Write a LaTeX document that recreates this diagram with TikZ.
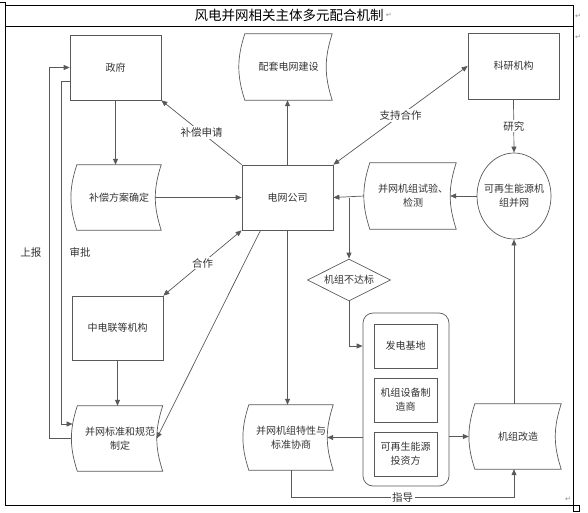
\documentclass[tikz,border=0pt]{standalone}
\usepackage{fontspec}
\setmainfont{Noto Sans CJK SC}
\newfontfamily\symfont{DejaVu Sans}
\usetikzlibrary{arrows.meta,shapes.geometric,calc,positioning}
\definecolor{linegray}{gray}{0.35}
\definecolor{textgray}{gray}{0.2}
\tikzset{
  boxtext/.style={font=\fontsize{10}{14}\selectfont, text=textgray, align=center, inner sep=0pt},
  rectbox/.style={boxtext, draw=linegray, line width=0.7pt},
  wavybox/.style={boxtext},
  shapeline/.style={draw=linegray, line width=0.7pt},
  arrow/.style={draw=linegray, line width=0.7pt, -{Triangle[length=6pt,width=5pt]}},
  twoway/.style={arrow, {Triangle[length=6pt,width=5pt]}-{Triangle[length=6pt,width=5pt]}},
  edgelabel/.style={font=\fontsize{10.5}{13}\selectfont, text=textgray, fill=white, inner sep=1.5pt},
  pilcrow/.style={font=\symfont\fontsize{7}{8}\selectfont, text=black!45, inner sep=0pt}
}
\begin{document}
\begin{tikzpicture}[x=1pt,y=-1pt]
\useasboundingbox (0,0) rectangle (588,513);
\draw[line width=0.8pt] (5,5) rectangle (573,505);
\draw[line width=0.8pt] (5,26) -- (573,26);
\draw[line width=0.6pt] (0,2) -- (5,2) -- (5,5);
\draw[line width=0.6pt] (573,505) rectangle (579,511);
\node[font=\fontsize{13.5}{16}\selectfont, inner sep=0pt] (title) at (289,15.5) {风电并网相关主体多元配合机制};
\node[pilcrow, right=2pt of title] (mark0) {↵};
\node[pilcrow] (mark1) at (578,16) {↵};
\node[pilcrow] (mark2) at (578,37) {↵};
\node[pilcrow] (mark3) at (568,499) {↵};

\node[rectbox, minimum width=91pt, minimum height=65pt] (gov) at (115.5,67.5) {政府};
\node[wavybox, minimum width=87pt, minimum height=66pt] (gridbuild) at (288.5,67) {配套电网建设};
\node[rectbox, minimum width=91pt, minimum height=66pt] (research) at (513.5,66) {科研机构};
\node[wavybox, minimum width=84pt, minimum height=65pt] (compensate) at (119,197.5) {补偿方案确定};
\node[rectbox, minimum width=91pt, minimum height=65pt] (gridco) at (287.5,197.5) {电网公司};
\node[wavybox, minimum width=86pt, minimum height=66pt] (test) at (413,196) {并网机组试验、\\检测};
\node[ellipse, shapeline, minimum width=74pt, minimum height=86pt, inner sep=0pt,
  label={[boxtext]center:可再生能源机\\组并网}] (connect) at (514,196) {};
\node[diamond, aspect=2, boxtext, shapeline, minimum width=83pt, minimum height=42pt] (fail) at (349,280) {机组不达标};
\node[rectbox, minimum width=91pt, minimum height=64pt] (cec) at (117.5,328) {中电联等机构};
\node[wavybox, minimum width=85pt, minimum height=65pt] (standard) at (120,438.5) {并网标准和规范\\制定};
\node[wavybox, minimum width=84pt, minimum height=65pt] (negotiate) at (291,437.5) {并网机组特性与\\标准协商};
\node[shapeline, rounded corners=10pt, minimum width=86pt, minimum height=173pt] (group) at (406,399.5) {};
\node[rectbox, minimum width=63pt, minimum height=44pt] (base) at (405.5,346) {发电基地};
\node[rectbox, minimum width=63pt, minimum height=44pt] (maker) at (405.5,400) {机组设备制\\造商};
\node[rectbox, minimum width=63pt, minimum height=44pt] (investor) at (405.5,454) {可再生能源\\投资方};
\node[wavybox, minimum width=86pt, minimum height=65pt] (retrofit) at (518,436.5) {机组改造};

\foreach \n in {gridbuild,compensate,test,standard,negotiate,retrofit}
  \draw[shapeline] (\n.north west) to[bend right=18] (\n.south west) -- (\n.south east)
    to[bend left=18] (\n.north east) -- cycle;

\draw[arrow] (gov.south) -- (gov.south |- compensate.north);
\draw[arrow] ($(compensate.east)+(-6,0)$) -- (gridco.west);
\draw[arrow] (gridco.north west) -- node[edgelabel]{补偿申请} (gov.south east);
\draw[arrow] (gridco.north) -- (gridco.north |- gridbuild.south);
\draw[twoway] (gridco.north east) -- node[edgelabel]{支持合作} (research.west);
\draw[arrow] ($(test.west)+(-6,0)$) -- (gridco.east);
\draw[arrow] (connect.west) -- ($(test.east)+(-6,0)$);
\draw[arrow] (research.south) -- node[edgelabel]{研究} (connect.north);
\draw[arrow] (fail.north |- gridco.east) -- (fail.north);
\draw[arrow] (fail.south) |- (base.west -| group.west);
\draw[arrow] (gridco.south) -- (gridco.south |- negotiate.north);
\draw[arrow] ($(gridco.south)+(-27,0)$) -- ($(standard.east)+(-6,0)$);
\draw[twoway] (gridco.south west) -- node[edgelabel]{合作} (cec.north east);
\draw[arrow] (cec.south) -- (cec.south |- standard.north);
\draw[arrow] ($(standard.west)+(-6,0)$) -- ++(-22,0) |- node[pos=0.25, edgelabel, left=6pt]{上报} (gov.west);
\draw[arrow] ($(gov.west)+(0,13.5)$) -- ++(-8,0) |- node[pos=0.25, edgelabel, right=6pt]{审批} ($(standard.west)+(-4.7,-14.5)$);
\draw[arrow] (group.east |- retrofit.west) -- ($(retrofit.west)+(-6,0)$);
\draw[arrow] (group.west |- negotiate.east) -- ($(negotiate.east)+(-6,0)$);
\draw[arrow] (connect.south |- retrofit.north) -- (connect.south);
\draw[arrow] (negotiate.south) -- ++(0,27) -| node[pos=0.25, edgelabel]{指导} (connect.south |- retrofit.south);
\end{tikzpicture}
\end{document}
